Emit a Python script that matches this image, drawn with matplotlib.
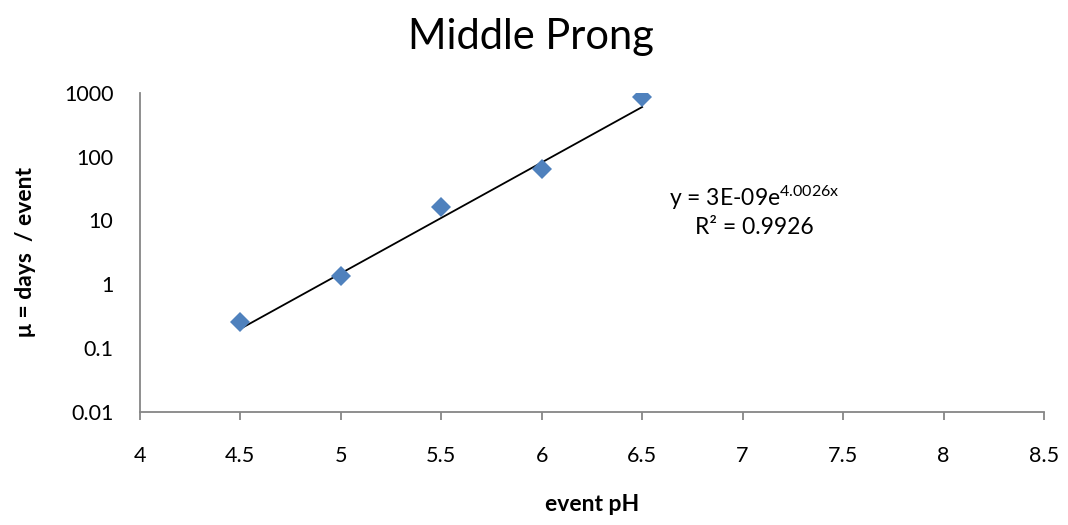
import numpy as np
import matplotlib.pyplot as plt

plt.rcParams['font.family'] = ['Lato', 'DejaVu Sans']

ph = [4.5, 5.0, 5.5, 6.0, 6.5]
mu = [0.258, 1.34, 16.0, 64.0, 865.0]

# exponential trend line as printed on the chart
fit_a = 3e-9
fit_b = 4.0026

fig = plt.figure(figsize=(10.68, 5.25), dpi=100)
ax = fig.add_axes([0.131, 0.2158, 0.8465, 0.6076])

xs = np.linspace(min(ph), max(ph), 50)
ax.plot(xs, fit_a * np.exp(fit_b * xs), color="black", linewidth=1.3, zorder=3)
ax.plot(ph, mu, "D", color="#4F81BD", markersize=10, markeredgewidth=0, zorder=4)

ax.set_yscale("log")
ax.set_xlim(4, 8.5)
ax.set_ylim(0.01, 1000)
ax.set_xticks(np.arange(4, 8.51, 0.5))
ax.set_xticklabels(["4", "4.5", "5", "5.5", "6", "6.5", "7", "7.5", "8", "8.5"])
ax.set_yticks([0.01, 0.1, 1, 10, 100, 1000])
ax.set_yticklabels(["0.01", "0.1", "1", "10", "100", "1000"])
ax.minorticks_off()

for s in ["top", "right"]:
    ax.spines[s].set_visible(False)
for s in ["left", "bottom"]:
    ax.spines[s].set_color("#868686")
    ax.spines[s].set_linewidth(1.3)
ax.tick_params(axis="x", direction="out", length=6, width=1.3, color="#868686", labelsize=15.5, pad=19)
ax.tick_params(axis="y", length=0, labelsize=15.5, pad=19)

ax.set_xlabel("event pH", fontsize=16.5, fontweight="bold", labelpad=20)
ax.set_ylabel("\u03bc = days  / event", fontsize=16.5, fontweight="bold", labelpad=20)
fig.suptitle("Middle Prong", fontsize=30, x=0.497, y=0.965)

ax.text(0.68, 0.629, "y = 3E-09e$\\mathregular{^{4.0026x}}$\nR\u00b2 = 0.9926", transform=ax.transAxes,
        ha="center", va="center", fontsize=16.5, linespacing=1.3)

plt.savefig("out.png", dpi=100)
